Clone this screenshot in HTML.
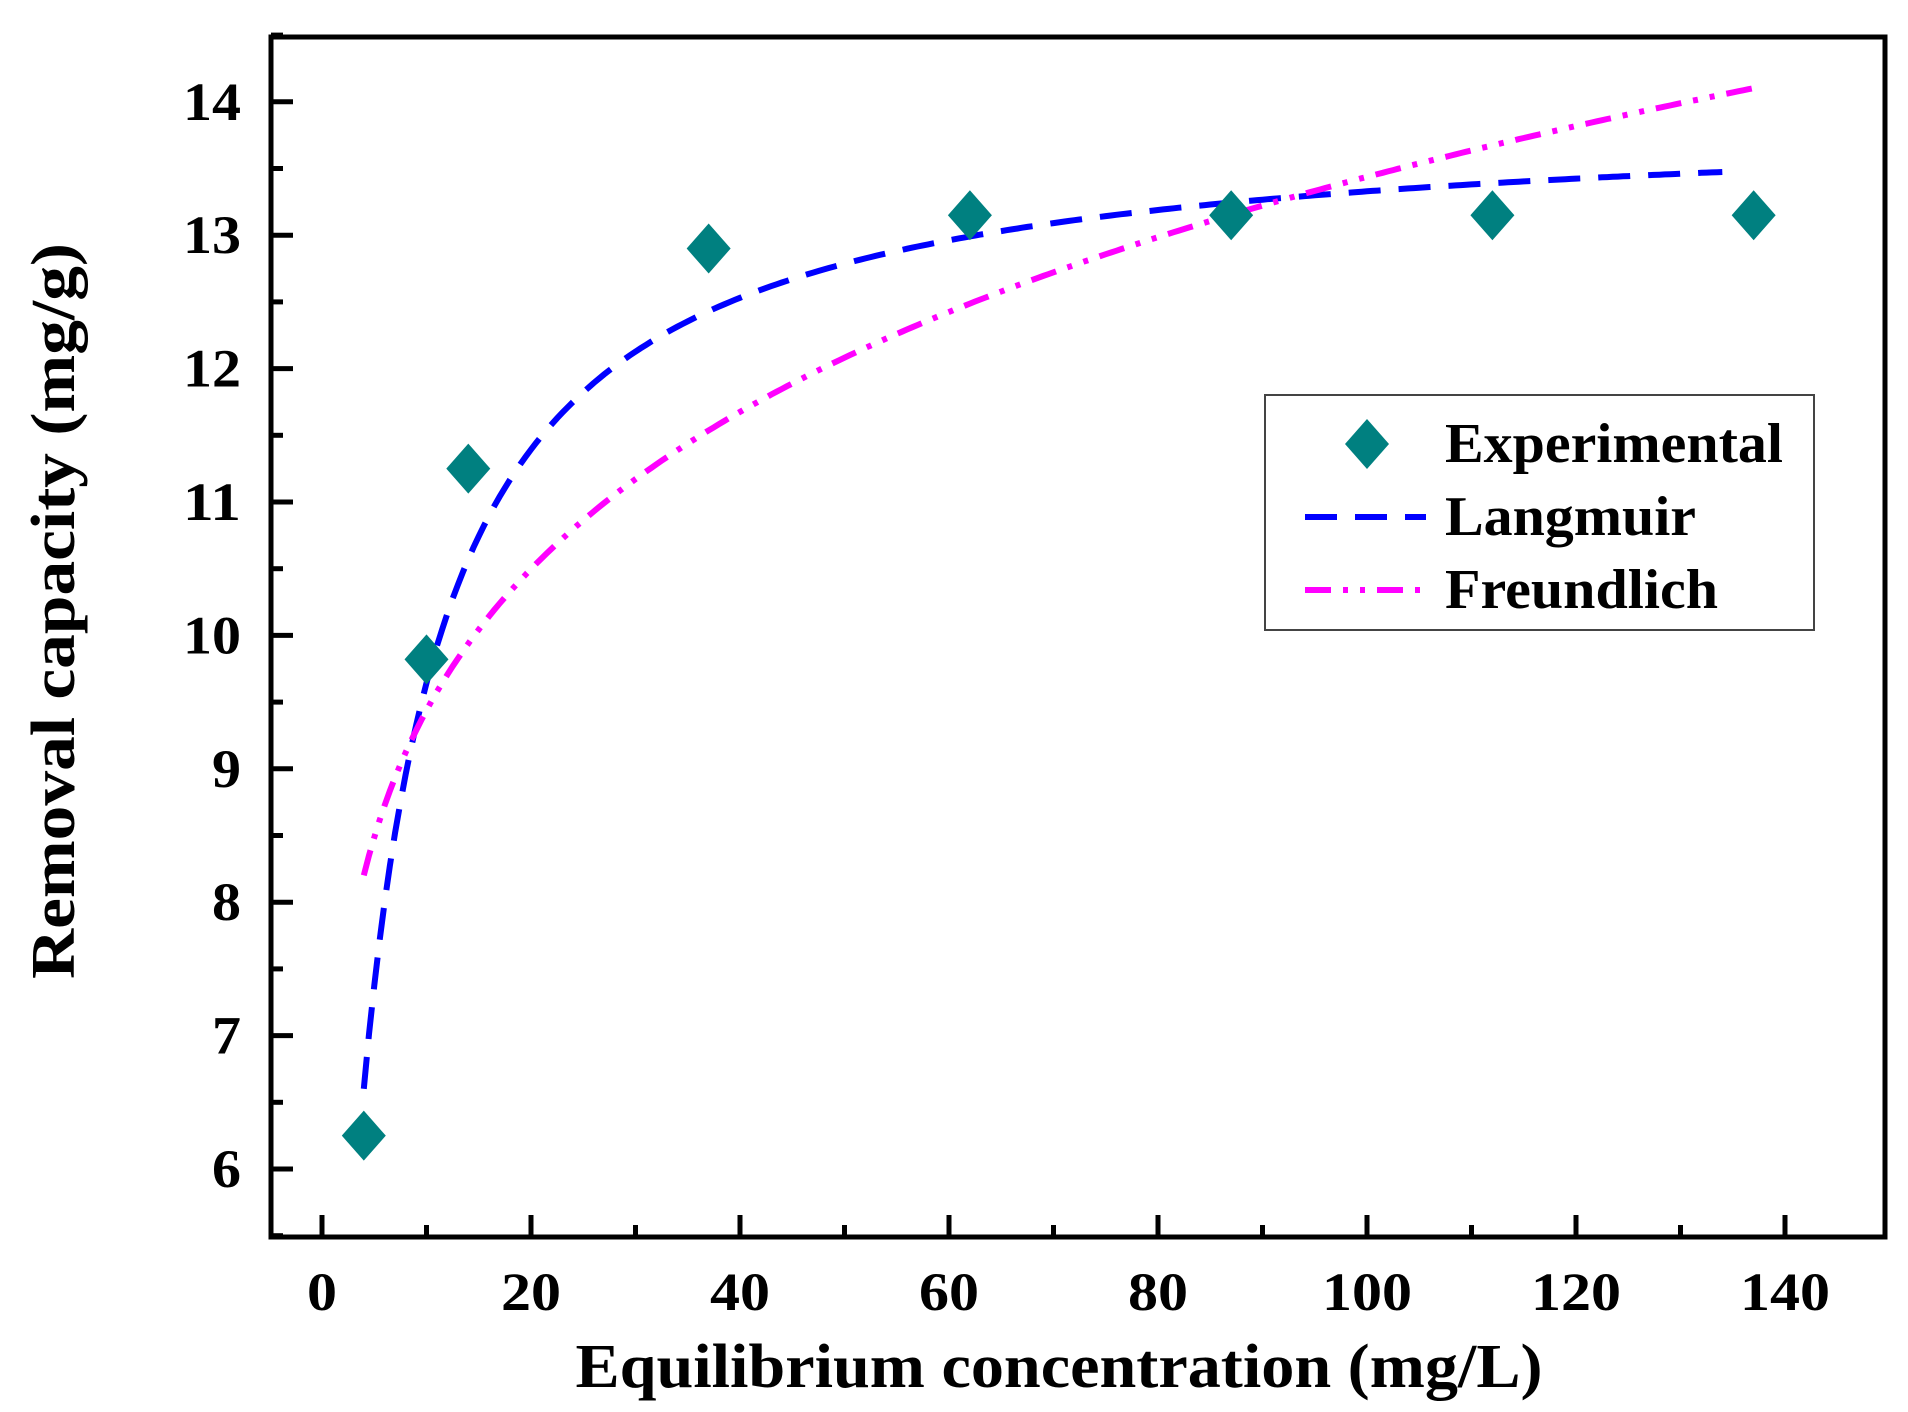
<!DOCTYPE html>
<html><head><meta charset="utf-8"><style>
html,body{margin:0;padding:0;background:#fff;}
svg{display:block;}
text{font-family:"Liberation Serif",serif;font-weight:bold;fill:#000;}
</style></head><body>
<svg id="s" width="1908" height="1412" viewBox="0 0 1908 1412" xmlns="http://www.w3.org/2000/svg">
<rect x="0" y="0" width="1908" height="1412" fill="#fff"/>
<g id="ticks" stroke="#000" stroke-width="5"></g>
<path id="lang" fill="none" stroke="#0000ff" stroke-width="6" stroke-dasharray="32,18"/>
<path id="freu" fill="none" stroke="#ff00ff" stroke-width="6" stroke-dasharray="26,12,5,12,5,12"/>
<g id="pts" fill="#008080"></g>
<rect x="271" y="37" width="1614" height="1200" fill="none" stroke="#000" stroke-width="5"/>
<g id="labels" font-size="54"></g>
<text x="1059" y="1387" font-size="62" text-anchor="middle" textLength="967" lengthAdjust="spacingAndGlyphs">Equilibrium concentration (mg/L)</text>
<text transform="translate(74,611) rotate(-90)" font-size="62" text-anchor="middle" textLength="736" lengthAdjust="spacingAndGlyphs">Removal capacity  (mg/g)</text>
<rect x="1265" y="395" width="549" height="235" fill="#fff" stroke="#444" stroke-width="2"/>
<path d="M1367 419 L1389 444 L1367 469 L1345 444 Z" fill="#008080"/>
<line x1="1305" y1="517" x2="1426" y2="517" stroke="#0000ff" stroke-width="6" stroke-dasharray="32,18"/>
<line x1="1305" y1="590" x2="1426" y2="590" stroke="#ff00ff" stroke-width="6" stroke-dasharray="26,12,5,12,5,12"/>
<text x="1445" y="462" font-size="56" textLength="338" lengthAdjust="spacingAndGlyphs">Experimental</text>
<text x="1445" y="535" font-size="56" textLength="251" lengthAdjust="spacingAndGlyphs">Langmuir</text>
<text x="1445" y="608" font-size="56" textLength="273" lengthAdjust="spacingAndGlyphs">Freundlich</text>
</svg>
<script>
var NS="http://www.w3.org/2000/svg";
function X(c){return 322+c*10.45;}
function Y(q){return 1169-(q-6)*133.4;}
function el(t,a,p){var e=document.createElementNS(NS,t);for(var k in a)e.setAttribute(k,a[k]);document.getElementById(p).appendChild(e);return e;}
for(var c=0;c<=140;c+=10){var L=c%20==0?22:12;el("line",{x1:X(c),y1:1237,x2:X(c),y2:1237-L},"ticks");}
for(var c=0;c<=140;c+=20){var s=""+c;var t=el("text",{x:X(c),y:1310,"text-anchor":"middle",textLength:30*s.length,lengthAdjust:"spacingAndGlyphs"},"labels");t.textContent=s;}
for(var q=5.5;q<=14.6;q+=0.5){var L=(Math.abs(q-Math.round(q))<0.01)?22:12;el("line",{x1:271,y1:Y(q),x2:271+L,y2:Y(q)},"ticks");}
for(var q=6;q<=14;q++){var s=""+q;var t=el("text",{x:241,y:Y(q)+18,"text-anchor":"end",textLength:29*s.length,lengthAdjust:"spacingAndGlyphs"},"labels");t.textContent=s;}
var d="",f="";
for(var c=4;c<=134;c+=0.5){var q=13.92*0.2255*c/(1+0.2255*c);d+=(c==4?"M":"L")+X(c).toFixed(1)+" "+Y(q).toFixed(1);}
for(var c=4;c<=137;c+=0.5){var q=6.63*Math.pow(c,0.1534);f+=(c==4?"M":"L")+X(c).toFixed(1)+" "+Y(q).toFixed(1);}
document.getElementById("lang").setAttribute("d",d);
document.getElementById("freu").setAttribute("d",f);
var P=[[4,6.25],[10,9.82],[14,11.25],[37,12.9],[62,13.15],[87,13.15],[112,13.15],[137,13.15]];
P.forEach(function(p){var x=X(p[0]),y=Y(p[1]);el("path",{d:"M"+x+" "+(y-25)+"L"+(x+22)+" "+y+"L"+x+" "+(y+25)+"L"+(x-22)+" "+y+"Z"},"pts");});
</script>
</body></html>
